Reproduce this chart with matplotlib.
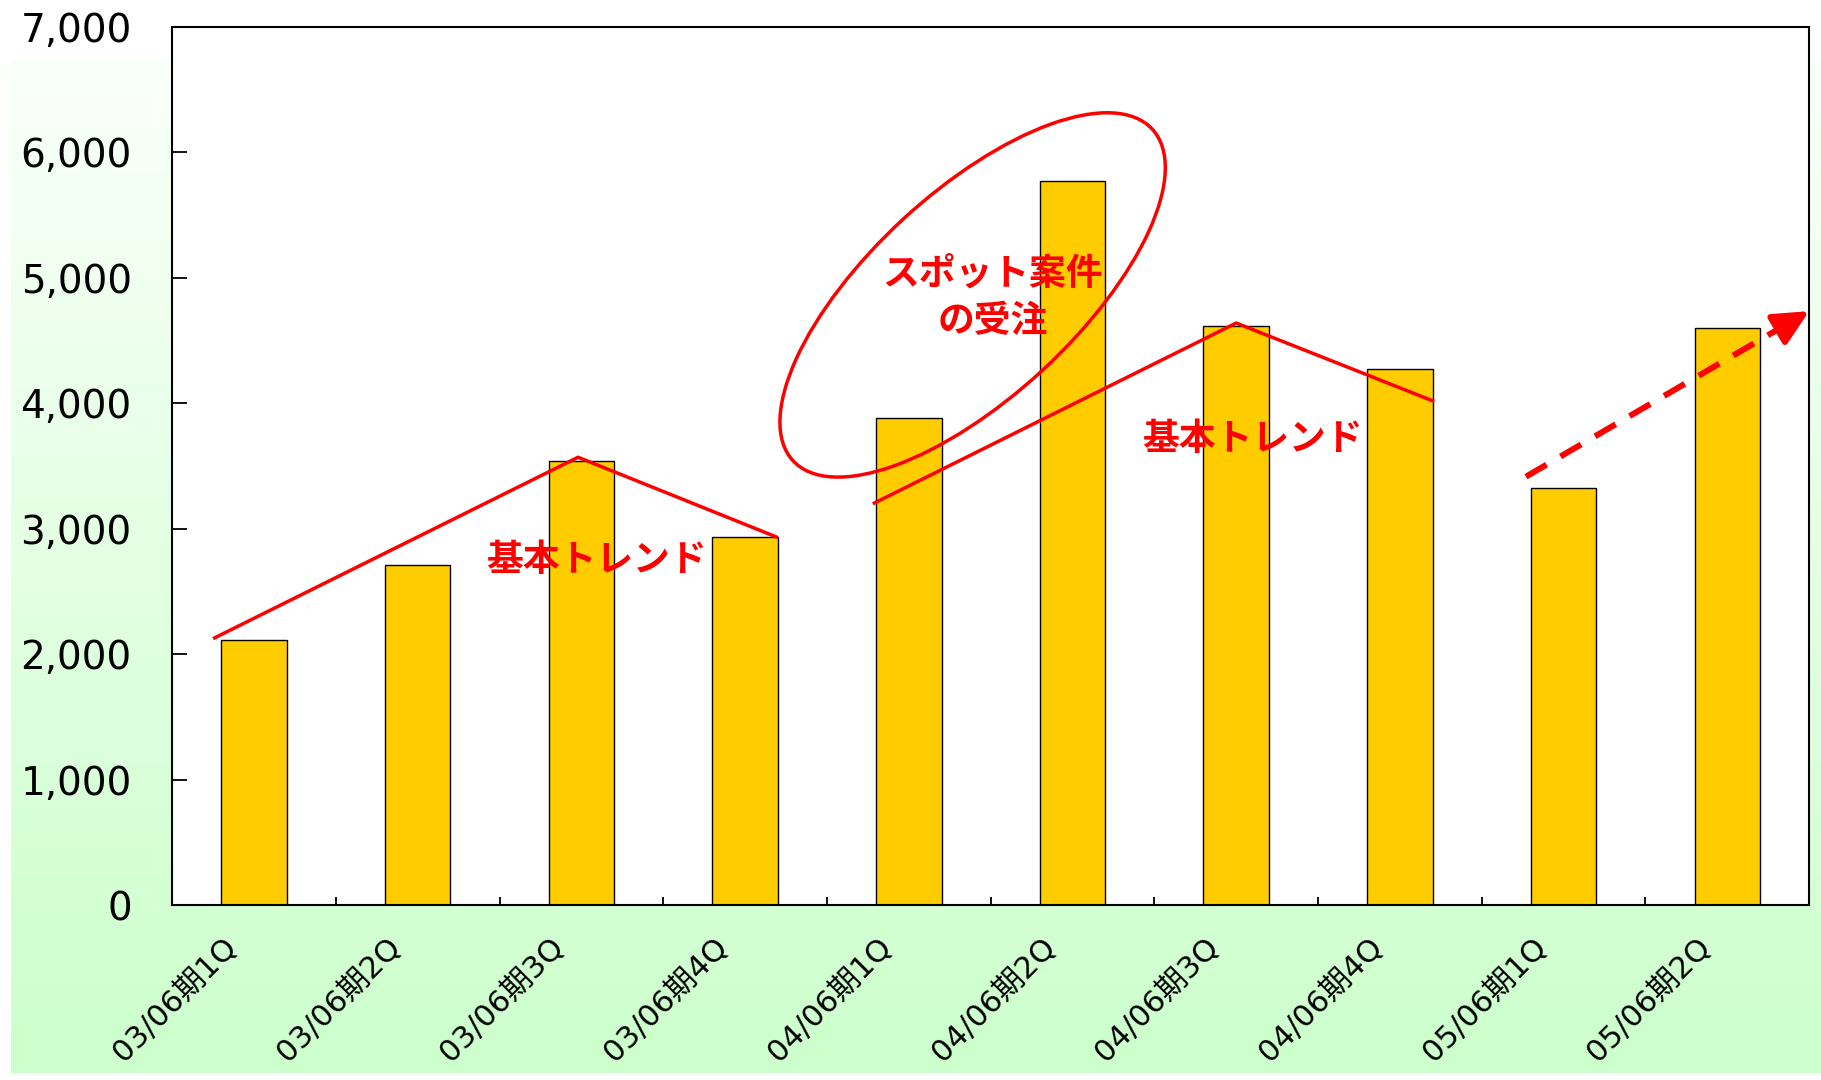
import numpy as np
import matplotlib.pyplot as plt
import matplotlib.transforms as mtransforms
from matplotlib.patches import Ellipse

# quarterly figures
quarters = ['03/06期1Q', '03/06期2Q', '03/06期3Q', '03/06期4Q',
            '04/06期1Q', '04/06期2Q', '04/06期3Q', '04/06期4Q',
            '05/06期1Q', '05/06期2Q']
values = [2110, 2710, 3540, 2935, 3880, 5770, 4620, 4270, 3325, 4600]

# hand-drawn trend annotations (category index, value)
trend1_x = [-0.24, 1.98, 3.19]
trend1_y = [2130, 3570, 2935]
trend2_x = [3.79, 6.00, 7.20]
trend2_y = [3205, 4640, 4020]
outlook_x = [7.77, 9.50]
outlook_y = [3415, 4735]
spot_center = (4.39, 4864)

yticks = [0, 1000, 2000, 3000, 4000, 5000, 6000, 7000]

RED = '#ff0000'
JP = ['Noto Sans CJK JP', 'DejaVu Sans']
LABEL_FONT = ['DejaVu Sans', 'Noto Sans CJK JP']

fig = plt.figure(figsize=(18.21, 10.80), dpi=100)

# green gradient panel behind the chart
bg = fig.add_axes([0.006, 0.0065, 0.994, 0.9375], zorder=-10)
grad = np.linspace(0, 1, 256)[:, None]
top = np.array([0.98, 1.0, 0.98])
bottom = np.array([0.80, 1.0, 0.80])
img = top[None, None, :] * (1 - grad[..., None]) + bottom[None, None, :] * grad[..., None]
bg.imshow(img, aspect='auto', extent=[0, 1, 0, 1])
bg.axis('off')

ax = fig.add_axes([0.0945, 0.162, 0.899, 0.813])
ax.set_facecolor('white')

x = np.arange(len(values))
ax.bar(x, values, width=0.4, color='#ffcc00', edgecolor='black', linewidth=1.0, zorder=2)

ax.set_xlim(-0.5, len(values) - 0.5)
ax.set_ylim(0, 7000)

ax.set_yticks(yticks)
ax.set_yticklabels([f'{v:,}' for v in yticks], fontsize=28, family=LABEL_FONT)
ax.tick_params(axis='y', direction='in', length=11, width=1.3, pad=29)

# ticks on category boundaries, labels on category centres
ax.set_xticks(np.arange(-0.5, len(values) + 0.5, 1.0))
ax.set_xticklabels([])
ax.tick_params(axis='x', which='major', direction='in', length=6, width=1.3)
ax.set_xticks(x, minor=True)
ax.set_xticklabels(quarters, minor=True, rotation=45, ha='right', va='center',
                   rotation_mode='anchor', fontsize=22, family=LABEL_FONT)
ax.tick_params(axis='x', which='minor', length=0, pad=27)
shift = mtransforms.ScaledTranslation(-0.22, 0, fig.dpi_scale_trans)
for lbl in ax.get_xticklabels(minor=True):
    lbl.set_transform(lbl.get_transform() + shift)

for s in ax.spines.values():
    s.set_linewidth(1.5)
    s.set_color('black')

# trend lines
ax.plot(trend1_x, trend1_y, color=RED, lw=2.5, zorder=3, clip_on=False)
ax.plot(trend2_x, trend2_y, color=RED, lw=2.5, zorder=3, clip_on=False)
ax.text(2.09, 2743, '基本トレンド', color=RED, fontsize=26.5, fontweight='bold',
        family=JP, ha='center', va='center', zorder=4)
ax.text(6.10, 3708, '基本トレンド', color=RED, fontsize=26.5, fontweight='bold',
        family=JP, ha='center', va='center', zorder=4)

# ellipse around the one-off order
ell_tr = (mtransforms.Affine2D().scale(1 / 72) + fig.dpi_scale_trans
          + mtransforms.ScaledTranslation(spot_center[0], spot_center[1], ax.transData))
ax.add_patch(Ellipse((0, 0), width=2 * 176, height=2 * 74, angle=42.7,
                     fill=False, edgecolor=RED, lw=2.5, transform=ell_tr, zorder=3))
ax.text(4.51, 4840, 'スポット案件\nの受注', color=RED, fontsize=26.5, fontweight='bold',
        family=JP, ha='center', va='center', linespacing=1.35, zorder=4)

# dashed outlook arrow
frac = 0.91
bx = outlook_x[0] + frac * (outlook_x[1] - outlook_x[0])
by = outlook_y[0] + frac * (outlook_y[1] - outlook_y[0])
ax.plot([outlook_x[0], bx], [outlook_y[0], by], color=RED, lw=4.3,
        linestyle=(0, (4, 2.7)), zorder=3, clip_on=False)
ax.annotate('', xy=(outlook_x[1], outlook_y[1]), xytext=(bx, by),
            arrowprops=dict(arrowstyle='-|>,head_length=1.07,head_width=0.52',
                            mutation_scale=20, color=RED, lw=4.3,
                            shrinkA=0, shrinkB=0),
            zorder=4)

fig.savefig('out.png', dpi=100)
